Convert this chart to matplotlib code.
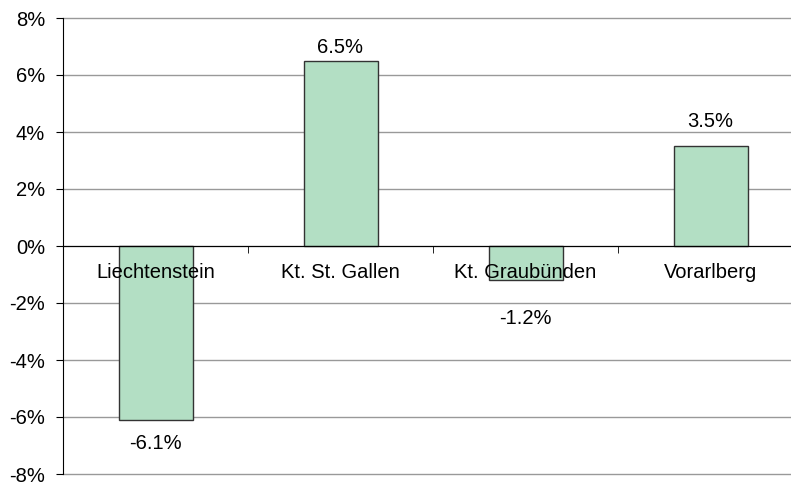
import numpy as np
import matplotlib.pyplot as plt
from matplotlib.ticker import FuncFormatter

regions = ["Liechtenstein", "Kt. St. Gallen", "Kt. Graubünden", "Vorarlberg"]
change = [-6.1, 6.5, -1.2, 3.5]
# gap (points) between bar end and its value label
label_gap = [10, 5.8, 21, 13.7]

plt.rcParams['font.family'] = ['Liberation Sans', 'DejaVu Sans']
fs = 14.5

fig = plt.figure(figsize=(7.91, 4.83), dpi=100)
ax = fig.add_axes([63/791, 9/483, 1 - 63/791, 456/483])

x = np.arange(len(regions))
ax.bar(x, change, width=0.4, color='#b3dfc4', edgecolor='#333333', linewidth=1, zorder=2)

for xi, v, g in zip(x, change, label_gap):
    if v >= 0:
        ax.annotate(f"{v:.1f}%", (xi, v), xytext=(0, g), textcoords='offset points',
                    ha='center', va='baseline', fontsize=fs, zorder=4)
    else:
        ax.annotate(f"{v:.1f}%", (xi, v), xytext=(0, -g), textcoords='offset points',
                    ha='center', va='top', fontsize=fs, zorder=4)

ax.set_ylim(-8, 8)
ax.set_xlim(-0.5, 3.5 - 12/185)
yt = np.arange(-8, 9, 2)
ax.set_yticks(yt)
ax.yaxis.set_major_formatter(FuncFormatter(lambda v, p: f"{v:.0f}%"))
for t in yt:
    ax.axhline(t, color='#999999', linewidth=1, zorder=0, clip_on=False)

ax.set_xticks(x)
ax.set_xticklabels(regions)
ax.set_xticks([0.5, 1.5, 2.5], minor=True)
ax.tick_params(axis='x', which='major', length=0, pad=12, labelsize=fs)
ax.tick_params(axis='x', which='minor', length=5, direction='out', color='black')
ax.tick_params(axis='y', length=5, direction='out', labelsize=fs, pad=8)

# category labels sit on top of the bars, as in the original
ax.set_axisbelow(False)
ax.xaxis.set_zorder(3)
ax.spines['bottom'].set_position(('data', 0))
ax.spines['bottom'].set_zorder(3)
ax.spines['left'].set_zorder(3)
ax.spines['top'].set_visible(False)
ax.spines['right'].set_visible(False)

plt.savefig('out.png', dpi=100)
